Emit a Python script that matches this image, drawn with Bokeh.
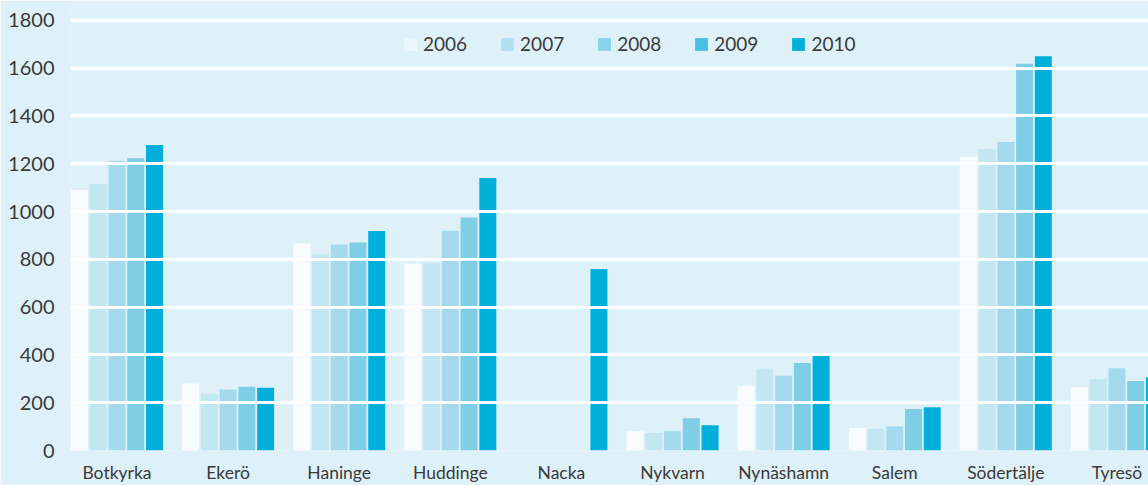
import numpy as np
from bokeh.plotting import figure
from bokeh.models import ColumnDataSource, Range1d, FixedTicker, Legend, LegendItem
from bokeh.transform import dodge
from bokeh.embed import file_html
from bokeh.resources import INLINE

# ---------------- data ----------------
municipalities = ["Botkyrka", "Ekerö", "Haninge", "Huddinge", "Nacka",
                  "Nykvarn", "Nynäshamn", "Salem", "Södertälje", "Tyresö"]
years = ["2006", "2007", "2008", "2009", "2010"]
v2006 = [1090, 280, 866, 781, None, 81, 271, 94, 1230, 266]
v2007 = [1115, 238, 821, 785, None, 73, 342, 90, 1262, 299]
v2008 = [1213, 255, 862, 920, None, 81, 313, 102, 1291, 344]
v2009 = [1223, 267, 870, 975, None, 135, 366, 174, 1618, 291]
v2010 = [1278, 263, 919, 1140, 760, 106, 395, 181, 1650, 307]
y_ticks = [0, 200, 400, 600, 800, 1000, 1200, 1400, 1600, 1800]

# ---------------- styles ----------------
bar_colors = ["#F8FCFE", "#C2E6F2", "#A5DAEE", "#7ECEE6", "#00B0DB"]
legend_colors = ["#EAF6FC", "#B3E0F0", "#8AD2EA", "#48BFE2", "#00B0DA"]
BG = "#DFF1F8"
TEXT = "#3A3A3A"
FONT = "Lato"

def arr(v):
    return np.array([np.nan if x is None else x for x in v], dtype=float)

src = ColumnDataSource(data=dict(
    x=np.arange(len(municipalities)),
    y2006=arr(v2006), y2007=arr(v2007), y2008=arr(v2008),
    y2009=arr(v2009), y2010=arr(v2010),
))

p = figure(width=1148, height=485, output_backend="svg", toolbar_location=None,
           x_range=Range1d(-0.4185, 9.284), y_range=Range1d(0, 1866.4),
           min_border_left=70, min_border_right=0, min_border_top=4,
           min_border_bottom=31)
p.background_fill_color = BG
p.border_fill_color = BG
p.outline_line_color = None

pitch = 0.1688
bw = 0.153
for i, yr in enumerate(years):
    p.vbar(x=dodge("x", (i - 2) * pitch), top="y" + yr, width=bw, bottom=0,
           source=src, fill_color=bar_colors[i], line_color=None)

# legend swatches use a slightly different tint: zero-height proxy bars
items = []
for i, yr in enumerate(years):
    r = p.vbar(x="x", top=0, bottom=0, width=bw, source=src,
               fill_color=legend_colors[i], line_color=None)
    items.append(LegendItem(label=yr, renderers=[r]))
legend = Legend(items=items, orientation="horizontal", location=(332, 395),
                glyph_width=16, glyph_height=16, label_standoff=5, spacing=32,
                padding=0, margin=0, border_line_color=None,
                background_fill_alpha=0,
                label_text_font=FONT, label_text_font_size="19px",
                label_text_color=TEXT, label_height=20)
p.add_layout(legend, "center")

# axes
p.xaxis.ticker = FixedTicker(ticks=list(range(len(municipalities))))
p.xaxis.major_label_overrides = {i: m for i, m in enumerate(municipalities)}
p.yaxis.ticker = FixedTicker(ticks=y_ticks)
for ax in (p.xaxis, p.yaxis):
    ax.axis_line_color = None
    ax.major_tick_line_color = None
    ax.minor_tick_line_color = None
    ax.major_tick_in = 0
    ax.major_tick_out = 0
    ax.major_label_text_font = FONT
    ax.major_label_text_color = TEXT
p.xaxis.major_label_text_font_size = "17.5px"
p.xaxis.major_label_standoff = 11
p.yaxis.major_label_text_font_size = "20px"
p.yaxis.major_label_standoff = 16

# grid drawn over bars, white
p.xgrid.grid_line_color = None
p.ygrid.ticker = FixedTicker(ticks=y_ticks[1:])
p.ygrid.grid_line_color = "white"
p.ygrid.grid_line_width = 3
p.ygrid.level = "overlay"

open("out.html", "w").write(file_html(p, INLINE))
